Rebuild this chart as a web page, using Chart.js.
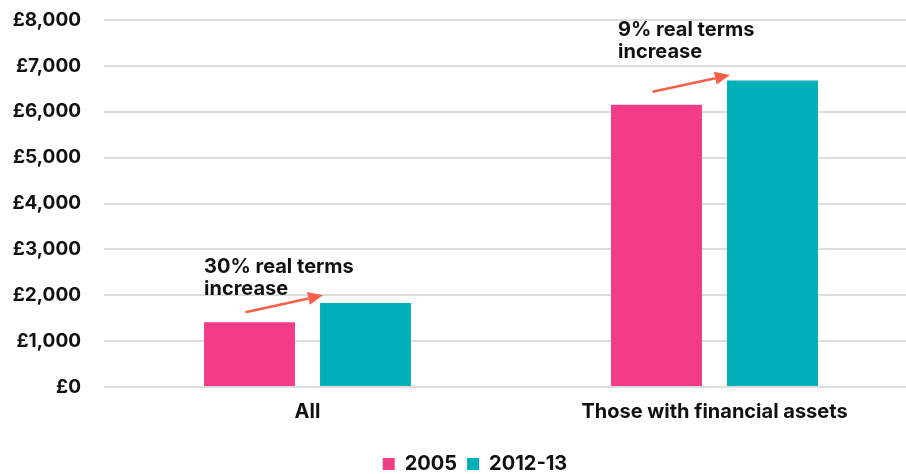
<!DOCTYPE html>
<html>
<head>
<meta charset="utf-8">
<script src="https://cdn.jsdelivr.net/npm/chart.js@4/dist/chart.umd.min.js"></script>
<style>
  html, body { margin: 0; padding: 0; background: #fff; overflow: hidden; }
  #wrap { width: 906px; height: 474px; overflow: hidden; position: relative; }
  #box { width: 920px; height: 474px; }
</style>
</head>
<body>
<div id="wrap"><div id="box"><canvas id="c"></canvas></div></div>
<script>
// Average pension/savings values, real terms
const categories = ['All', 'Those with financial assets'];
const seriesNames = ['2005', '2012-13'];
const values2005 = [1410, 6150];
const values2012 = [1830, 6680];
const yTickValues = [0, 1000, 2000, 3000, 4000, 5000, 6000, 7000, 8000];

// Call-out notes: text lines, and the values the text and arrows sit at
const noteLines = [['30% real terms', 'increase'], ['9% real terms', 'increase']];
const noteTop = [2610, 7780];
const arrowFrom = [1630, 6435];
const arrowTo = [2000, 6800];

const FONT = "Inter, 'Liberation Sans', sans-serif";
const INK = '#111111';
const PINK = '#F23C87';
const TEAL = '#00B0B9';
const ARROW = '#F5604A';

const notesPlugin = {
  id: 'notes',
  afterLayout(chart) {
    // nudge the legend row to the right of the canvas centre
    chart.legend.left += 16;
    chart.legend.right += 16;
  },
  afterDatasetsDraw(chart) {
    const { ctx, scales: { y } } = chart;
    const m0 = chart.getDatasetMeta(0);
    const m1 = chart.getDatasetMeta(1);
    const textShift = [0, 7];
    ctx.save();
    noteLines.forEach((lines, i) => {
      const a = m0.data[i];
      const b = m1.data[i];
      // text block
      ctx.font = `bold 20px ${FONT}`;
      ctx.fillStyle = INK;
      ctx.textAlign = 'left';
      ctx.textBaseline = 'middle';
      const tx = a.x - a.width / 2 + textShift[i];
      const ty = y.getPixelForValue(noteTop[i]);
      lines.forEach((ln, k) => ctx.fillText(ln, tx, ty + k * 22));
      // arrow
      const x0 = a.x - 4;
      const y0 = y.getPixelForValue(arrowFrom[i]);
      const x1 = b.x - b.width / 2 + 3;
      const y1 = y.getPixelForValue(arrowTo[i]);
      const ang = Math.atan2(y1 - y0, x1 - x0);
      const head = 15, half = 6.5;
      const bx = x1 - head * Math.cos(ang);
      const by = y1 - head * Math.sin(ang);
      ctx.strokeStyle = ARROW;
      ctx.lineWidth = 2.5;
      ctx.beginPath();
      ctx.moveTo(x0, y0);
      ctx.lineTo(bx, by);
      ctx.stroke();
      ctx.fillStyle = ARROW;
      ctx.beginPath();
      ctx.moveTo(x1, y1);
      ctx.lineTo(bx + half * Math.sin(ang), by - half * Math.cos(ang));
      ctx.lineTo(bx - half * Math.sin(ang), by + half * Math.cos(ang));
      ctx.closePath();
      ctx.fill();
    });
    ctx.restore();
  }
};

new Chart(document.getElementById('c'), {
  type: 'bar',
  data: {
    labels: categories,
    datasets: [
      { label: seriesNames[0], data: values2005, backgroundColor: PINK },
      { label: seriesNames[1], data: values2012, backgroundColor: TEAL }
    ]
  },
  options: {
    responsive: true,
    maintainAspectRatio: false,
    animation: false,
    categoryPercentage: 0.57,
    barPercentage: 0.784,
    layout: { padding: { left: 0, right: 2, top: 20, bottom: -10 } },
    plugins: {
      tooltip: { enabled: false },
      legend: {
        position: 'bottom',
        labels: {
          boxWidth: 12,
          boxHeight: 12,
          padding: 10,
          color: INK,
          font: { family: FONT, size: 20, weight: 'bold' }
        }
      }
    },
    scales: {
      x: {
        afterFit(scale) { scale.height += 15; },
        grid: { display: false },
        border: { display: false },
        ticks: { color: INK, padding: 5, font: { family: FONT, size: 20, weight: 'bold' } }
      },
      y: {
        min: 0,
        max: 8000,
        afterBuildTicks(scale) { scale.ticks = yTickValues.map(v => ({ value: v })); },
        afterFit(scale) { scale.width = 104; },
        border: { display: false },
        grid: { color: '#dddddd', lineWidth: 2, drawTicks: true, tickLength: 23, tickColor: 'rgba(0,0,0,0)' },
        ticks: {
          color: INK,
          padding: 0,
          font: { family: FONT, size: 19, weight: 'bold' },
          callback: v => '£' + v.toLocaleString('en-GB')
        }
      }
    }
  },
  plugins: [notesPlugin]
});
</script>
</body>
</html>
